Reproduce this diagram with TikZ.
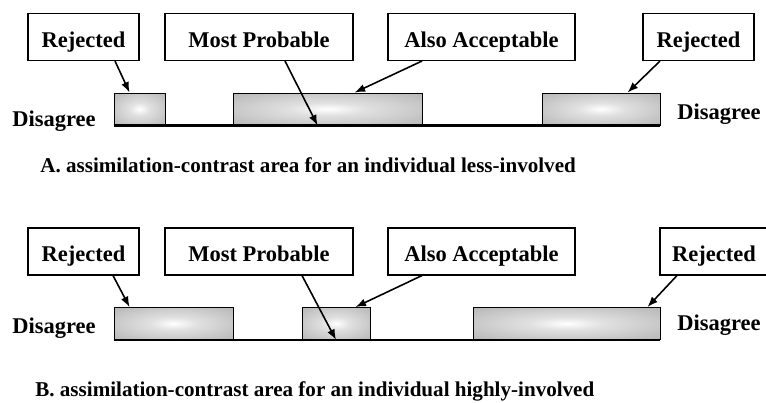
\documentclass[tikz,border=0pt]{standalone}
\usepackage{fontspec}
\setmainfont{Liberation Serif}
\usetikzlibrary{arrows.meta,calc}
\pgfdeclareradialshading{glow}{\pgfpoint{0bp}{0bp}}{color(0bp)=(white); color(10bp)=(white!88!black); color(38bp)=(black!30); color(50bp)=(black!34)}

\begin{document}
\begin{tikzpicture}[x=0.02cm,y=-0.02cm,
		tag/.style={draw,line width=0.6pt,minimum height=0.94cm,inner sep=0pt,text height=12pt,text depth=0.6pt,font=\fontsize{12.8}{15}\selectfont\bfseries},
		bar/.style={draw,line width=0.5pt,minimum height=0.64cm,inner sep=0pt,shading=glow},
		side/.style={anchor=base west,inner sep=0pt,font=\fontsize{12.8}{15}\selectfont\bfseries},
		caption/.style={anchor=base west,inner sep=0pt,font=\fontsize{12}{14}\selectfont\bfseries},
		pointer/.style={-{Latex[length=6pt,width=4.5pt]},line width=0.9pt}]
				\useasboundingbox (0,0) rectangle (766,402);
				% A: less involved
				\node[tag,minimum width=2.22cm] (rejA1) at (83.5,37) {Rejected};
				\node[tag,minimum width=3.76cm] (mostA) at (259,37) {Most Probable};
				\node[tag,minimum width=3.74cm] (alsoA) at (481.5,37) {Also Acceptable};
				\node[tag,minimum width=2.22cm] (rejA2) at (698.5,37) {Rejected};
				\node[bar,minimum width=1.02cm] (barA1) at (139.5,109) {};
				\node[bar,minimum width=3.78cm] (barA2) at (327.5,109) {};
				\node[bar,minimum width=2.36cm] (barA3) at (601,109) {};
				\draw[line width=1.4pt] (barA1.south west) -- (barA3.south east);
				\node[side] (disA1) at (12,126) {Disagree};
				\node[side] (disA2) at (677,119) {Disagree};
				\draw[pointer] ($(rejA1.south)+(31.5,0)$) -- ($(barA1.north west)+(16,0)$);
				\draw[pointer] ($(mostA.south)+(26,0)$) -- ($(barA2.south west)+(85,0)$);
				\draw[pointer] ($(alsoA.south)+(-59.5,0)$) -- ($(barA2.north west)+(122,0)$);
				\draw[pointer] ($(rejA2.south)+(-38.5,0)$) -- ($(barA3.north west)+(86,0)$);
				\node[caption] (capA) at (40,172) {A. assimilation-contrast area for an individual less-involved};
				% B: highly involved
				\node[tag,minimum width=2.22cm] (rejB1) at (83.5,251.5) {Rejected};
				\node[tag,minimum width=3.76cm] (mostB) at (259,251.5) {Most Probable};
				\node[tag,minimum width=3.74cm] (alsoB) at (481.5,251.5) {Also Acceptable};
				\node[tag,minimum width=2.16cm] (rejB2) at (714,251.5) {Rejected};
				\node[bar,minimum width=2.38cm] (barB1) at (173.5,323.5) {};
				\node[bar,minimum width=1.36cm] (barB2) at (336,323.5) {};
				\node[bar,minimum width=3.74cm] (barB3) at (566.5,323.5) {};
				\draw[line width=1.4pt] (barB1.south west) -- (barB3.south east);
				\node[side] (disB1) at (12,333) {Disagree};
				\node[side] (disB2) at (677,330) {Disagree};
				\draw[pointer] ($(rejB1.south)+(29.5,0)$) -- ($(barB1.north west)+(16,0)$);
				\draw[pointer] ($(mostB.south)+(43,0)$) -- (barB2.south);
				\draw[pointer] ($(alsoB.south)+(-59.5,0)$) -- ($(barB2.north east)+(-15,0)$);
				\draw[pointer] ($(rejB2.south)+(-37,0)$) -- ($(barB3.north east)+(-13,0)$);
				\node[caption] (capB) at (35,396) {B. assimilation-contrast area for an individual highly-involved};
			\end{tikzpicture}
\end{document}
